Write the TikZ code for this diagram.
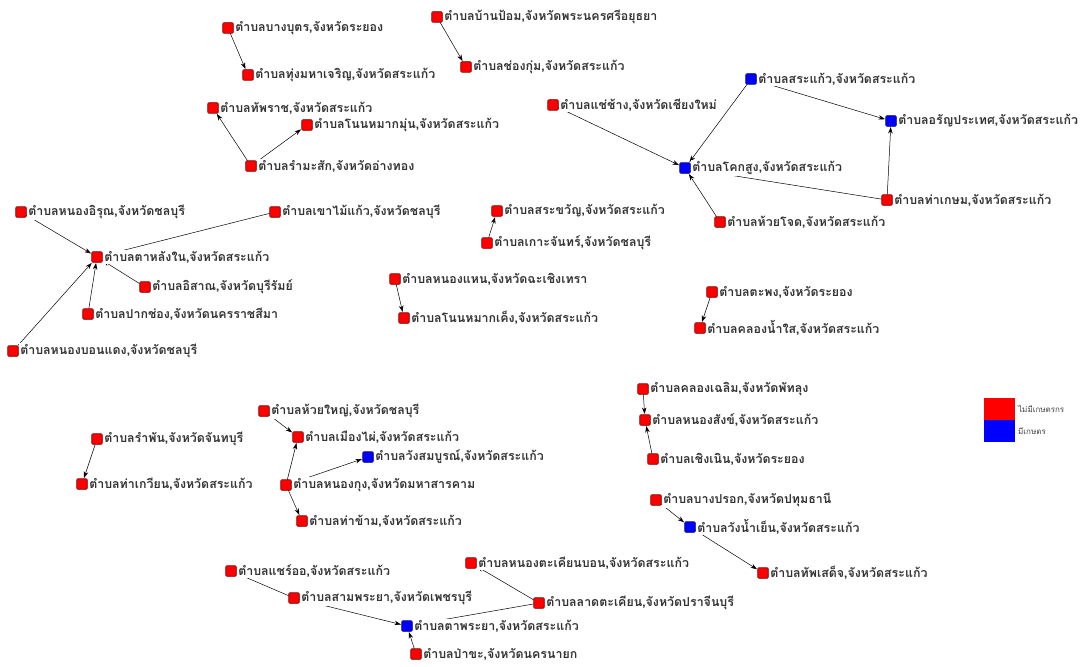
\documentclass[tikz,border=0pt]{standalone}
\usepackage{fontspec}
\newfontfamily\thaifont[Script=Thai]{Loma}
\usetikzlibrary{arrows.meta}
\tikzset{
  sq/.style={minimum size=10.5pt, inner sep=0pt, rounded corners=1pt, line width=0.6pt},
  rn/.style={sq, fill=red, draw=red!45!black},
  bn/.style={sq, fill=blue, draw=blue!45!black},
  lbl/.style={anchor=west, fill=white, inner sep=1pt, xshift=0.5pt, text=black!80,
              font=\thaifont\bfseries\fontsize{12.4}{14}\selectfont},
  link/.style={-{Stealth[length=6.5pt,width=4.5pt]}, line width=0.5pt, black, shorten >=0.5pt},
  legtxt/.style={anchor=west, inner sep=0pt, text=black!75, font=\thaifont\fontsize{8}{9}\selectfont}
}
\begin{document}
\begin{tikzpicture}[x=1pt,y=-1pt]
\useasboundingbox[fill=white] (0,0) rectangle (1083,666);

% squares
\node[rn] (n1) at (228,28) {};
\node[rn] (n2) at (248,75) {};
\node[rn] (n3) at (437,17) {};
\node[rn] (n4) at (466,67) {};
\node[rn] (n5) at (213,108) {};
\node[rn] (n6) at (307,125) {};
\node[rn] (n7) at (251,166) {};
\node[bn] (n8) at (751,79) {};
\node[rn] (n9) at (553,105) {};
\node[bn] (n10) at (891,121) {};
\node[bn] (n11) at (685,168) {};
\node[rn] (n12) at (887,200) {};
\node[rn] (n13) at (720,222) {};
\node[rn] (n14) at (21,212) {};
\node[rn] (n15) at (275,212) {};
\node[rn] (n16) at (97,257) {};
\node[rn] (n17) at (145,287) {};
\node[rn] (n18) at (88,314) {};
\node[rn] (n19) at (13,351) {};
\node[rn] (n20) at (497,211) {};
\node[rn] (n21) at (487,243) {};
\node[rn] (n22) at (395,279) {};
\node[rn] (n23) at (404,318) {};
\node[rn] (n24) at (712,292) {};
\node[rn] (n25) at (700,328) {};
\node[rn] (n26) at (643,389) {};
\node[rn] (n27) at (645,420) {};
\node[rn] (n28) at (653,459) {};
\node[rn] (n29) at (264,411) {};
\node[rn] (n30) at (298,437) {};
\node[bn] (n31) at (368,457) {};
\node[rn] (n32) at (286,485) {};
\node[rn] (n33) at (302,521) {};
\node[rn] (n34) at (97,439) {};
\node[rn] (n35) at (82,484) {};
\node[rn] (n36) at (656,500) {};
\node[bn] (n37) at (690,527) {};
\node[rn] (n38) at (763,573) {};
\node[rn] (n39) at (231,571) {};
\node[rn] (n40) at (294,598) {};
\node[rn] (n41) at (471,563) {};
\node[rn] (n42) at (539,603) {};
\node[bn] (n43) at (407,626) {};
\node[rn] (n44) at (416,654) {};

% links
\foreach \a/\b in {n1/n2, n3/n4, n7/n5, n7/n6, n9/n11, n8/n11, n8/n10, n12/n10,
                   n12/n11, n13/n11, n14/n16, n15/n16, n17/n16, n18/n16, n19/n16,
                   n21/n20, n22/n23, n24/n25, n26/n27, n28/n27, n29/n30, n32/n30,
                   n32/n31, n32/n33, n34/n35, n36/n37, n37/n38, n40/n39, n40/n43,
                   n42/n41, n42/n43, n44/n43}
  \draw[link] (\a) -- (\b);

% labels
\node[lbl] (l1) at (n1.east) {ตำบลบางบุตร,จังหวัดระยอง};
\node[lbl] (l2) at (n2.east) {ตำบลทุ่งมหาเจริญ,จังหวัดสระแก้ว};
\node[lbl] (l3) at (n3.east) {ตำบลบ้านป้อม,จังหวัดพระนครศรีอยุธยา};
\node[lbl] (l4) at (n4.east) {ตำบลช่องกุ่ม,จังหวัดสระแก้ว};
\node[lbl] (l5) at (n5.east) {ตำบลทัพราช,จังหวัดสระแก้ว};
\node[lbl] (l6) at (n6.east) {ตำบลโนนหมากมุ่น,จังหวัดสระแก้ว};
\node[lbl] (l7) at (n7.east) {ตำบลรำมะสัก,จังหวัดอ่างทอง};
\node[lbl] (l8) at (n8.east) {ตำบลสระแก้ว,จังหวัดสระแก้ว};
\node[lbl] (l9) at (n9.east) {ตำบลแช่ช้าง,จังหวัดเชียงใหม่};
\node[lbl] (l10) at (n10.east) {ตำบลอรัญประเทศ,จังหวัดสระแก้ว};
\node[lbl] (l11) at (n11.east) {ตำบลโคกสูง,จังหวัดสระแก้ว};
\node[lbl] (l12) at (n12.east) {ตำบลท่าเกษม,จังหวัดสระแก้ว};
\node[lbl] (l13) at (n13.east) {ตำบลห้วยโจด,จังหวัดสระแก้ว};
\node[lbl] (l14) at (n14.east) {ตำบลหนองอิรุณ,จังหวัดชลบุรี};
\node[lbl] (l15) at (n15.east) {ตำบลเขาไม้แก้ว,จังหวัดชลบุรี};
\node[lbl] (l16) at (n16.east) {ตำบลตาหลังใน,จังหวัดสระแก้ว};
\node[lbl] (l17) at (n17.east) {ตำบลอิสาณ,จังหวัดบุรีรัมย์};
\node[lbl] (l18) at (n18.east) {ตำบลปากช่อง,จังหวัดนครราชสีมา};
\node[lbl] (l19) at (n19.east) {ตำบลหนองบอนแดง,จังหวัดชลบุรี};
\node[lbl] (l20) at (n20.east) {ตำบลสระขวัญ,จังหวัดสระแก้ว};
\node[lbl] (l21) at (n21.east) {ตำบลเกาะจันทร์,จังหวัดชลบุรี};
\node[lbl] (l22) at (n22.east) {ตำบลหนองแหน,จังหวัดฉะเชิงเทรา};
\node[lbl] (l23) at (n23.east) {ตำบลโนนหมากเค็ง,จังหวัดสระแก้ว};
\node[lbl] (l24) at (n24.east) {ตำบลตะพง,จังหวัดระยอง};
\node[lbl] (l25) at (n25.east) {ตำบลคลองน้ำใส,จังหวัดสระแก้ว};
\node[lbl] (l26) at (n26.east) {ตำบลคลองเฉลิม,จังหวัดพัทลุง};
\node[lbl] (l27) at (n27.east) {ตำบลหนองสังข์,จังหวัดสระแก้ว};
\node[lbl] (l28) at (n28.east) {ตำบลเชิงเนิน,จังหวัดระยอง};
\node[lbl] (l29) at (n29.east) {ตำบลห้วยใหญ่,จังหวัดชลบุรี};
\node[lbl] (l30) at (n30.east) {ตำบลเมืองไผ่,จังหวัดสระแก้ว};
\node[lbl] (l31) at (n31.east) {ตำบลวังสมบูรณ์,จังหวัดสระแก้ว};
\node[lbl] (l32) at (n32.east) {ตำบลหนองกุง,จังหวัดมหาสารคาม};
\node[lbl] (l33) at (n33.east) {ตำบลท่าข้าม,จังหวัดสระแก้ว};
\node[lbl] (l34) at (n34.east) {ตำบลรำพัน,จังหวัดจันทบุรี};
\node[lbl] (l35) at (n35.east) {ตำบลท่าเกวียน,จังหวัดสระแก้ว};
\node[lbl] (l36) at (n36.east) {ตำบลบางปรอก,จังหวัดปทุมธานี};
\node[lbl] (l37) at (n37.east) {ตำบลวังน้ำเย็น,จังหวัดสระแก้ว};
\node[lbl] (l38) at (n38.east) {ตำบลทัพเสด็จ,จังหวัดสระแก้ว};
\node[lbl] (l39) at (n39.east) {ตำบลแชร์ออ,จังหวัดสระแก้ว};
\node[lbl] (l40) at (n40.east) {ตำบลสามพระยา,จังหวัดเพชรบุรี};
\node[lbl] (l41) at (n41.east) {ตำบลหนองตะเคียนบอน,จังหวัดสระแก้ว};
\node[lbl] (l42) at (n42.east) {ตำบลลาดตะเคียน,จังหวัดปราจีนบุรี};
\node[lbl] (l43) at (n43.east) {ตำบลตาพระยา,จังหวัดสระแก้ว};
\node[lbl] (l44) at (n44.east) {ตำบลป่าขะ,จังหวัดนครนายก};

% legend
\fill[red] (984,398) rectangle (1015,420);
\fill[blue] (984,420) rectangle (1015,442);
\node[legtxt] (k1) at (1018,409) {ไม่มีเกษตรกร};
\node[legtxt] (k2) at (1018,431) {มีเกษตร};
\end{tikzpicture}
\end{document}
